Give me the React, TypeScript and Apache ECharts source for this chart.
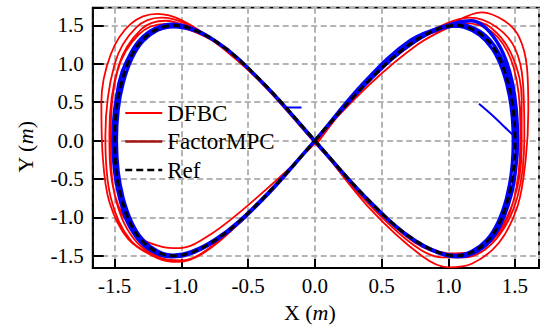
import React, { useEffect, useRef } from "react";
import * as echarts from "echarts";

const FONT = "Liberation Serif";

const xTicks = [-1.5, -1.0, -0.5, 0.0, 0.5, 1.0, 1.5];
const yTicks = [-1.5, -1.0, -0.5, 0.0, 0.5, 1.0, 1.5];

const refPath: [number, number][] = [
  [0, 0], [0.388, 0.75], [0.75, 1.299], [1.061, 1.5], [1.299, 1.299], [1.449, 0.75],
  [1.5, 0], [1.449, -0.75], [1.299, -1.299], [1.061, -1.5], [0.75, -1.299], [0.388, -0.75],
  [0, 0], [-0.388, 0.75], [-0.75, 1.299], [-1.061, 1.5], [-1.299, 1.299], [-1.449, 0.75],
  [-1.5, 0], [-1.449, -0.75], [-1.299, -1.299], [-1.061, -1.5], [-0.75, -1.299], [-0.388, -0.75],
  [0, 0],
];

// FactorMPC: thin start transient and stray segment
const mpcTransient: ([number, number] | null)[] = [
  [1.23, 0.48], [1.33, 0.33], [1.42, 0.18], [1.5, 0.04], [1.52, -0.05],
  null,
  [-0.21, 0.43], [-0.1, 0.43],
];

// FactorMPC: tracking loops
const mpcLoops: [number, number][] = [
  [1.52, -0.05],
  // loop 1
  [1.47, -0.72], [1.32, -1.28], [1.08, -1.51], [0.76, -1.32], [0.4, -0.78], [0.01, -0.03],
  [-0.38, 0.73], [-0.74, 1.29], [-1.06, 1.48], [-1.3, 1.3], [-1.46, 0.76], [-1.49, 0.0],
  [-1.46, -0.76], [-1.31, -1.31], [-1.04, -1.51], [-0.74, -1.3], [-0.38, -0.75], [0.0, 0.0],
  // loop 2
  [0.37, 0.76], [0.72, 1.31], [1.03, 1.52], [1.17, 1.56], [1.36, 1.3], [1.48, 0.76], [1.52, 0.0],
  [1.46, -0.76], [1.31, -1.3], [1.07, -1.5], [0.76, -1.31], [0.39, -0.76], [0.0, 0.0],
  [-0.39, 0.75], [-0.75, 1.3], [-1.07, 1.49], [-1.31, 1.29], [-1.47, 0.74], [-1.5, 0.0],
  [-1.45, -0.75], [-1.29, -1.3], [-1.06, -1.49], [-0.75, -1.29], [-0.39, -0.75], [0.0, 0.0],
  // loop 3
  [0.385, 0.745], [0.745, 1.293], [1.052, 1.492], [1.288, 1.29], [1.437, 0.745], [1.487, 0.0],
  [1.437, -0.745], [1.288, -1.293], [1.052, -1.494], [0.745, -1.293], [0.385, -0.745], [0.0, 0.0],
  [-0.385, 0.745], [-0.745, 1.293], [-1.052, 1.492], [-1.288, 1.293], [-1.437, 0.745], [-1.487, 0.0],
  [-1.437, -0.745], [-1.288, -1.293], [-1.052, -1.494], [-0.745, -1.293], [-0.385, -0.745], [0.0, 0.0],
  // loop 4
  [0.392, 0.757], [0.757, 1.312], [1.072, 1.515], [1.312, 1.312], [1.463, 0.757], [1.514, 0.0],
  [1.463, -0.757], [1.312, -1.312], [1.072, -1.515], [0.757, -1.312], [0.392, -0.757], [0.0, 0.0],
  [-0.392, 0.757], [-0.757, 1.312], [-1.072, 1.515], [-1.312, 1.312], [-1.463, 0.757], [-1.514, 0.0],
  [-1.463, -0.757], [-1.312, -1.312], [-1.072, -1.515], [-0.757, -1.312], [-0.392, -0.757], [0.0, 0.0],
  // loop 5 (partial)
  [0.39, 0.75], [0.75, 1.29], [1.06, 1.49], [1.28, 1.3], [1.45, 0.75], [1.5, 0.0],
];

const dfbcPath: [number, number][] = [
  // loop A
  [0.02, -0.03], [0.38, 0.74], [0.75, 1.28], [1.02, 1.52], [1.25, 1.67], [1.42, 1.56],
  [1.53, 1.35], [1.59, 0.95], [1.6, 0.4], [1.58, -0.25], [1.52, -0.85], [1.38, -1.33],
  [1.18, -1.6], [1.0, -1.65], [0.8, -1.5], [0.42, -0.9], [0.02, -0.05],
  [-0.38, 0.72], [-0.76, 1.3], [-1.0, 1.57], [-1.18, 1.65], [-1.38, 1.52], [-1.53, 1.12],
  [-1.6, 0.5], [-1.59, -0.2], [-1.54, -0.8], [-1.4, -1.28], [-1.18, -1.53], [-1.02, -1.58],
  [-0.78, -1.4], [-0.42, -0.82], [0.0, 0.0],
  // loop B
  [0.38, 0.74], [0.74, 1.29], [0.98, 1.52], [1.16, 1.6], [1.36, 1.48], [1.5, 1.2],
  [1.56, 0.75], [1.57, 0.05], [1.52, -0.72], [1.36, -1.28], [1.12, -1.52], [0.95, -1.52],
  [0.74, -1.36], [0.39, -0.8], [0.0, -0.02],
  [-0.39, 0.74], [-0.75, 1.3], [-0.98, 1.53], [-1.15, 1.6], [-1.34, 1.47], [-1.5, 1.0],
  [-1.57, 0.05], [-1.53, -0.74], [-1.38, -1.3], [-1.15, -1.53], [-1.0, -1.56],
  [-0.76, -1.36], [-0.4, -0.78], [0.0, 0.0],
  // loop C
  [0.41, 0.73], [0.77, 1.25], [1.0, 1.47], [1.14, 1.56], [1.32, 1.47], [1.48, 1.1],
  [1.55, 0.55], [1.55, -0.1], [1.49, -0.78], [1.32, -1.3], [1.08, -1.48], [0.78, -1.33],
  [0.4, -0.78], [0.0, -0.02],
  [-0.4, 0.75], [-0.76, 1.3], [-0.98, 1.5], [-1.12, 1.56], [-1.3, 1.45], [-1.47, 0.98],
  [-1.54, 0.1], [-1.5, -0.7], [-1.34, -1.22], [-1.15, -1.38], [-1.02, -1.4],
  [-0.78, -1.22], [-0.42, -0.72], [0.02, 0.0],
  // loop D
  [0.38, 0.76], [0.75, 1.3], [1.05, 1.5], [1.12, 1.53], [1.34, 1.4], [1.49, 0.95],
  [1.54, 0.2], [1.51, -0.62], [1.38, -1.2], [1.15, -1.46], [1.0, -1.47], [0.75, -1.33],
  [0.41, -0.8], [0.0, -0.03],
  [-0.39, 0.73], [-0.75, 1.28], [-1.02, 1.49], [-1.12, 1.52], [-1.32, 1.38], [-1.48, 0.9],
  [-1.53, 0.0], [-1.49, -0.78], [-1.33, -1.33], [-1.08, -1.52], [-0.76, -1.33],
  [-0.4, -0.78], [0.0, 0.0],
];

const seriesNames = ["DFBC", "FactorMPC", "Ref"];

const onTick = (v: number, ticks: number[]) =>
  ticks.some((t) => Math.abs(t - v) < 1e-6) ? `{t|${v.toFixed(1)}}` : "";

const hiddenSymbol = { color: "rgba(0,0,0,0)", borderColor: "rgba(0,0,0,0)", borderWidth: 0 };

const labelRich = { t: { fontFamily: FONT, fontSize: 21, color: "#000" } };

export default function App() {
  const ref = useRef<HTMLDivElement>(null);
  useEffect(() => {
    if (!ref.current) return;
    const chart = echarts.init(ref.current, undefined, { renderer: "svg" });
    const axisCommon = {
      type: "value" as const,
      axisLine: { show: true, onZero: false, lineStyle: { color: "#000", width: 1.8 } },
      axisTick: { show: true, inside: true, lineStyle: { color: "#000", width: 2 } },
      splitLine: { show: true, lineStyle: { color: "#b4b4b4", width: 2, type: [6, 3.5] } },
      nameTextStyle: {
        fontFamily: FONT,
        fontSize: 22,
        color: "#000",
        rich: {
          n: { fontFamily: FONT, fontSize: 22, color: "#000" },
          i: { fontFamily: FONT, fontSize: 22, fontStyle: "italic", color: "#000" },
        },
      },
    };
    const lineCommon = { type: "line" as const, showSymbol: false, symbol: "none", smooth: 0.35 };
    chart.setOption({
      animation: false,
      backgroundColor: "#fff",
      textStyle: { fontFamily: FONT },
      grid: {
        left: 92.7,
        top: 7.7,
        width: 451,
        height: 267.1,
        show: true,
        borderColor: "#000",
        borderWidth: 1.8,
        containLabel: false,
      },
      xAxis: {
        ...axisCommon,
        min: -1.665,
        max: 1.68,
        axisTick: { ...axisCommon.axisTick, length: 9 },
        axisLabel: {
          fontFamily: FONT,
          fontSize: 21,
          color: "#000",
          margin: 7,
          rich: labelRich,
          formatter: (v: number) => onTick(v, xTicks),
        },
        name: "{n|X (}{i|m}{n|)}",
        nameLocation: "middle",
        nameGap: 25,
        nameTextStyle: { ...axisCommon.nameTextStyle, padding: [0, 12, 0, 0] },
      },
      yAxis: {
        ...axisCommon,
        min: -1.66,
        max: 1.73,
        axisTick: { ...axisCommon.axisTick, length: 11 },
        axisLabel: {
          fontFamily: FONT,
          fontSize: 21,
          color: "#000",
          margin: 9,
          rich: labelRich,
          formatter: (v: number) => onTick(v, yTicks),
        },
        name: "{n|Y (}{i|m}{n|)}",
        nameLocation: "middle",
        nameGap: 56,
        nameTextStyle: { ...axisCommon.nameTextStyle, padding: [0, 18, 0, 0] },
      },
      legend: {
        left: 124,
        top: 101,
        padding: 0,
        orient: "vertical",
        selectedMode: false,
        itemWidth: 37,
        itemHeight: 14,
        itemGap: 4.5,
        itemStyle: hiddenSymbol,
        formatter: (name: string) => `{t|${name}}`,
        textStyle: {
          fontFamily: FONT,
          fontSize: 23,
          color: "#000",
          lineHeight: 24,
          rich: { t: { fontFamily: FONT, fontSize: 23, color: "#000", lineHeight: 24 } },
        },
        data: [
          { name: seriesNames[0], lineStyle: { color: "#ff0000", width: 2 }, itemStyle: hiddenSymbol },
          { name: seriesNames[1], lineStyle: { color: "#a31515", width: 2.5 }, itemStyle: hiddenSymbol },
          { name: seriesNames[2], lineStyle: { color: "#000", width: 2.5, type: [7, 4] }, itemStyle: hiddenSymbol },
        ],
      },
      series: [
        {
          ...lineCommon,
          name: seriesNames[0],
          data: dfbcPath,
          lineStyle: { color: "#ff0000", width: 1.8 },
          itemStyle: { color: "#ff0000" },
        },
        {
          ...lineCommon,
          name: seriesNames[1],
          data: mpcTransient.map((p) => (p === null ? [null, null] : p)),
          connectNulls: false,
          lineStyle: { color: "#0000ff", width: 2 },
          itemStyle: { color: "#0000ff" },
        },
        {
          ...lineCommon,
          name: seriesNames[1],
          data: mpcLoops,
          lineStyle: { color: "#0000ff", width: 3.3 },
          itemStyle: { color: "#0000ff" },
        },
        {
          ...lineCommon,
          name: seriesNames[2],
          data: refPath,
          lineStyle: { color: "#000", width: 3, type: [7, 4] },
          itemStyle: { color: "#000" },
        },
      ],
    });
    return () => chart.dispose();
  }, []);
  return (
    <div
      ref={ref}
      style={{ position: "fixed", left: 0, top: 0, width: 542, height: 328 }}
    />
  );
}
